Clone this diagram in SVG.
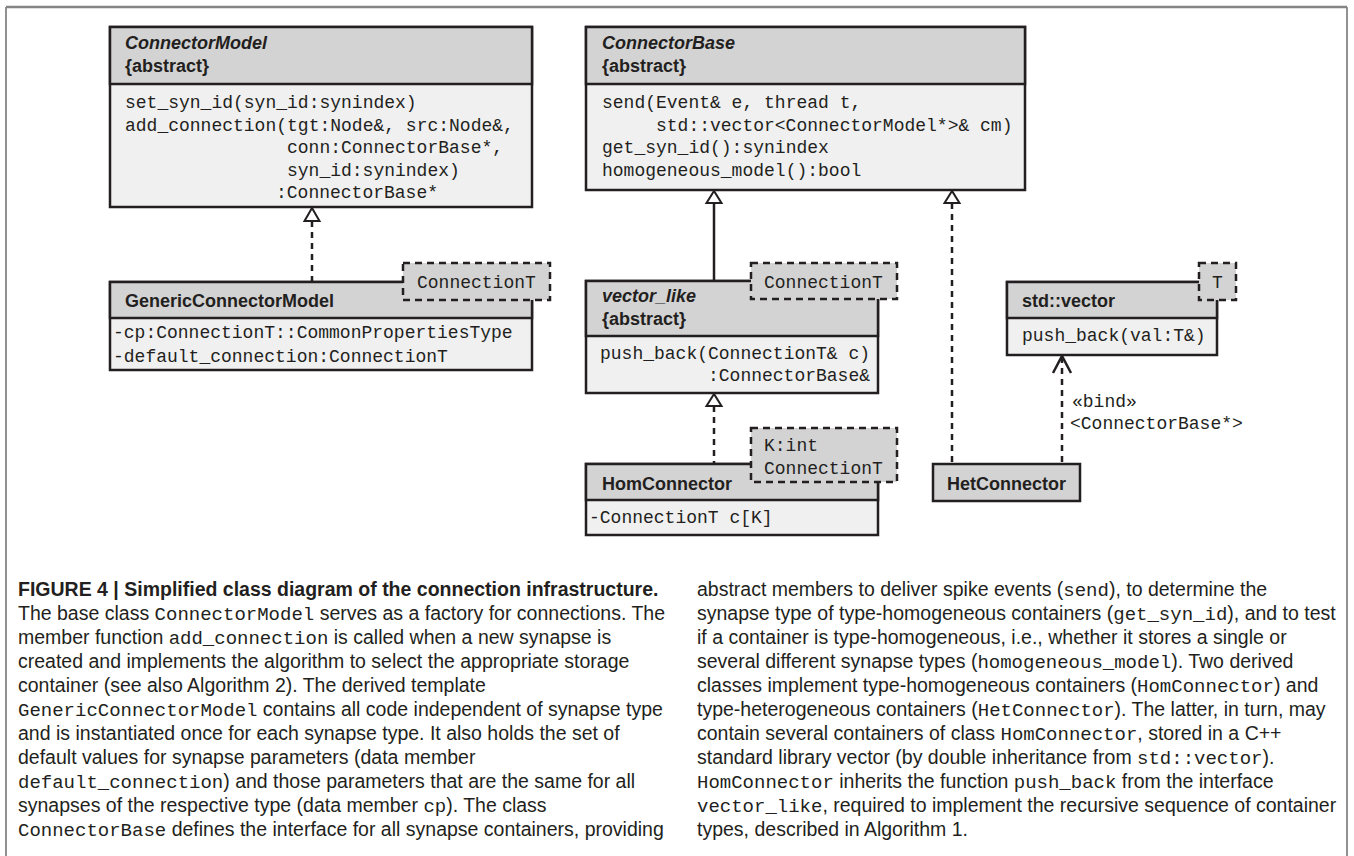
<svg xmlns="http://www.w3.org/2000/svg" width="1354" height="856" viewBox="0 0 1354 856">
<style>
.bg{fill:#ffffff}
.frame{fill:none;stroke:#6d6d6d;stroke-width:1.5}
.frametop{fill:none;stroke:#858585;stroke-width:2.5}
.body{fill:#f0f0f1;stroke:#231f20;stroke-width:2.5}
.hdr{fill:#d3d3d4;stroke:#231f20;stroke-width:2.5}
.tpl{fill:#d3d3d4;stroke:#231f20;stroke-width:2.5;stroke-dasharray:7 5}
.t{font-family:"Liberation Sans",Arial,sans-serif;font-weight:bold;font-size:18px;fill:#231f20}
.ti{font-style:italic}
.m{font-family:"Liberation Mono","Courier New",monospace;font-size:18px;fill:#231f20}
.ln{fill:none;stroke:#231f20;stroke-width:2.5}
.dash{stroke-dasharray:6 5}
.tri{fill:#ffffff;stroke:#231f20;stroke-width:2}
.cap{font-family:"Liberation Sans",Arial,sans-serif;font-size:19.5px;fill:#231f20}
.capb{font-weight:bold}
.cm{font-family:"Liberation Mono","Courier New",monospace;font-size:19px}
</style>
<rect class="bg" x="0" y="0" width="1354" height="856"/>
<g id="frame">
<path class="frame" d="M6,860 V7 M1347,7 V860"/>
<path class="frametop" d="M6,7 H1347"/>
</g>

<g id="connectors">
<line class="ln dash" x1="312" y1="221" x2="312" y2="282"/>
<polygon class="tri" points="312,208 304.5,221 319.5,221"/>
<line class="ln" x1="714" y1="203" x2="714" y2="281"/>
<polygon class="tri" points="714,191 706.5,203 721.5,203"/>
<line class="ln dash" x1="952" y1="203" x2="952" y2="464"/>
<polygon class="tri" points="952,191 944.5,203 959.5,203"/>
<line class="ln dash" x1="714" y1="406" x2="714" y2="464"/>
<polygon class="tri" points="714,394 706.5,406 721.5,406"/>
<line class="ln dash" x1="1062" y1="357" x2="1062" y2="464"/>
<polyline class="ln" points="1053,373 1062,356 1071,373"/>
<text class="m" x="1072" y="407">«bind»</text>
<text class="m" x="1070" y="429">&lt;ConnectorBase*&gt;</text>
</g>

<g id="ConnectorModel">
<rect class="body" x="110" y="27" width="422" height="180"/>
<rect class="hdr" x="110" y="27" width="422" height="57"/>
<text class="t ti" x="125" y="49">ConnectorModel</text>
<text class="t" x="125" y="72">{abstract}</text>
<text class="m" x="125" y="108">set_syn_id(syn_id:synindex)</text>
<text class="m" x="125" y="131">add_connection(tgt:Node&amp;, src:Node&amp;,</text>
<text class="m" x="287" y="153">conn:ConnectorBase*,</text>
<text class="m" x="287" y="176">syn_id:synindex)</text>
<text class="m" x="276" y="198">:ConnectorBase*</text>
</g>

<g id="GenericConnectorModel">
<rect class="body" x="110" y="282" width="422" height="88"/>
<rect class="hdr" x="110" y="282" width="422" height="36"/>
<text class="t" x="125" y="307">GenericConnectorModel</text>
<text class="m" x="113" y="338">-cp:ConnectionT::CommonPropertiesType</text>
<text class="m" x="113" y="362">-default_connection:ConnectionT</text>
<rect class="tpl" x="403" y="263" width="147" height="37"/>
<text class="m" x="417" y="288">ConnectionT</text>
</g>

<g id="ConnectorBase">
<rect class="body" x="586" y="27" width="439" height="163"/>
<rect class="hdr" x="586" y="27" width="439" height="57"/>
<text class="t ti" x="602" y="49">ConnectorBase</text>
<text class="t" x="602" y="72">{abstract}</text>
<text class="m" x="602" y="108">send(Event&amp; e, thread t,</text>
<text class="m" x="656" y="131">std::vector&lt;ConnectorModel*&gt;&amp; cm)</text>
<text class="m" x="602" y="153">get_syn_id():synindex</text>
<text class="m" x="602" y="176">homogeneous_model():bool</text>
</g>

<g id="vector_like">
<rect class="body" x="586" y="281" width="292" height="112"/>
<rect class="hdr" x="586" y="281" width="292" height="55"/>
<text class="t ti" x="602" y="302">vector_like</text>
<text class="t" x="602" y="325">{abstract}</text>
<text class="m" x="600" y="359">push_back(ConnectionT&amp; c)</text>
<text class="m" x="708" y="381">:ConnectorBase&amp;</text>
<rect class="tpl" x="751" y="263" width="146" height="36"/>
<text class="m" x="764" y="288">ConnectionT</text>
</g>

<g id="HomConnector">
<rect class="body" x="586" y="464" width="292" height="71"/>
<rect class="hdr" x="586" y="464" width="292" height="36"/>
<text class="t" x="602" y="490">HomConnector</text>
<text class="m" x="589" y="523">-ConnectionT c[K]</text>
<rect class="tpl" x="751" y="428" width="146" height="54"/>
<text class="m" x="764" y="451">K:int</text>
<text class="m" x="764" y="474">ConnectionT</text>
</g>

<g id="HetConnector">
<rect class="hdr" x="933" y="464" width="147" height="37"/>
<text class="t" x="947" y="490">HetConnector</text>
</g>

<g id="std_vector">
<rect class="body" x="1007" y="282" width="210" height="73"/>
<rect class="hdr" x="1007" y="282" width="210" height="36"/>
<text class="t" x="1022" y="307">std::vector</text>
<text class="m" x="1022" y="341">push_back(val:T&amp;)</text>
<rect class="tpl" x="1199" y="263" width="37" height="37"/>
<text class="m" x="1217.5" y="288" text-anchor="middle">T</text>
</g>

<g id="caption-left" class="cap">
<text x="18" y="596" class="capb">FIGURE 4 | Simplified class diagram of the connection infrastructure.</text>
<text x="18" y="620">The base class <tspan class="cm">ConnectorModel</tspan> serves as a factory for connections. The</text>
<text x="18" y="644">member function <tspan class="cm">add_connection</tspan> is called when a new synapse is</text>
<text x="18" y="668">created and implements the algorithm to select the appropriate storage</text>
<text x="18" y="692">container (see also Algorithm 2). The derived template</text>
<text x="18" y="716"><tspan class="cm">GenericConnectorModel</tspan> contains all code independent of synapse type</text>
<text x="18" y="740">and is instantiated once for each synapse type. It also holds the set of</text>
<text x="18" y="764">default values for synapse parameters (data member</text>
<text x="18" y="788"><tspan class="cm">default_connection</tspan>) and those parameters that are the same for all</text>
<text x="18" y="812">synapses of the respective type (data member <tspan class="cm">cp</tspan>). The class</text>
<text x="18" y="836"><tspan class="cm">ConnectorBase</tspan> defines the interface for all synapse containers, providing</text>
</g>

<g id="caption-right" class="cap">
<text x="697" y="596">abstract members to deliver spike events (<tspan class="cm">send</tspan>), to determine the</text>
<text x="697" y="620">synapse type of type-homogeneous containers (<tspan class="cm">get_syn_id</tspan>), and to test</text>
<text x="697" y="644">if a container is type-homogeneous, i.e., whether it stores a single or</text>
<text x="697" y="668">several different synapse types (<tspan class="cm">homogeneous_model</tspan>). Two derived</text>
<text x="697" y="692">classes implement type-homogeneous containers (<tspan class="cm">HomConnector</tspan>) and</text>
<text x="697" y="716">type-heterogeneous containers (<tspan class="cm">HetConnector</tspan>). The latter, in turn, may</text>
<text x="697" y="740">contain several containers of class <tspan class="cm">HomConnector</tspan>, stored in a C++</text>
<text x="697" y="764">standard library vector (by double inheritance from <tspan class="cm">std::vector</tspan>).</text>
<text x="697" y="788"><tspan class="cm">HomConnector</tspan> inherits the function <tspan class="cm">push_back</tspan> from the interface</text>
<text x="697" y="812"><tspan class="cm">vector_like</tspan>, required to implement the recursive sequence of container</text>
<text x="697" y="836">types, described in Algorithm 1.</text>
</g>
</svg>
